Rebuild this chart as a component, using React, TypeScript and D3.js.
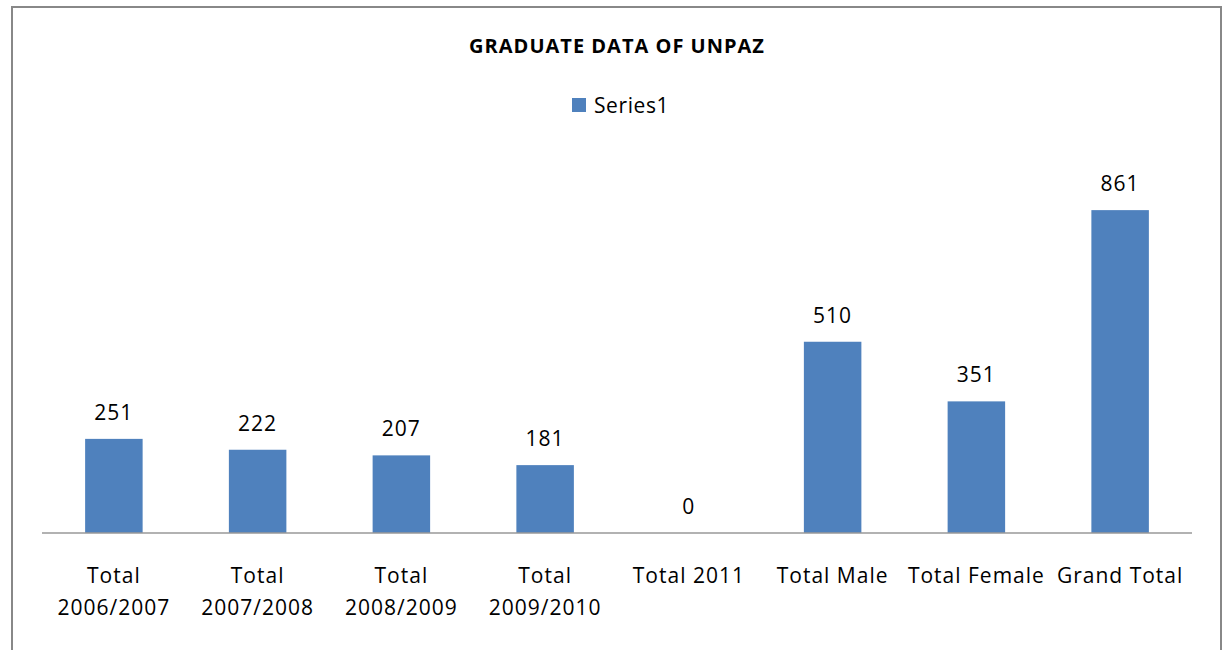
import { useEffect, useRef } from 'react';
import * as d3 from 'd3';

const categories = [
  'Total 2006/2007',
  'Total 2007/2008',
  'Total 2008/2009',
  'Total 2009/2010',
  'Total 2011',
  'Total Male',
  'Total Female',
  'Grand Total',
];
const values = [251, 222, 207, 181, 0, 510, 351, 861];
// label lines as they wrap in the picture
const labelLines = [
  ['Total', '2006/2007'],
  ['Total', '2007/2008'],
  ['Total', '2008/2009'],
  ['Total', '2009/2010'],
  ['Total 2011'],
  ['Total Male'],
  ['Total Female'],
  ['Grand Total'],
];
const seriesName = 'Series1';
const title = 'GRADUATE DATA OF UNPAZ';

const App = () => {
  const ref = useRef<SVGSVGElement>(null);

  useEffect(() => {
    const svg = d3.select(ref.current);
    svg.selectAll('*').remove();

    const width = 1224, height = 650;
    const plotLeft = 42, plotRight = 1192, plotTop = 158, plotBottom = 533;
    const font = 'Open Sans, sans-serif';
    const blue = '#4F81BD';

    // Chart border
    svg.append('rect')
      .attr('x', 12).attr('y', 7)
      .attr('width', 1209).attr('height', 660)
      .attr('fill', '#fff')
      .attr('stroke', '#888').attr('stroke-width', 2);

    const x = d3.scaleBand()
      .domain(categories)
      .range([plotLeft, plotRight])
      .paddingInner(0.6)
      .paddingOuter(0.3);

    const y = d3.scaleLinear()
      .domain([0, 1000])
      .range([plotBottom, plotTop]);

    // Title
    svg.append('text')
      .attr('x', 617).attr('y', 53)
      .attr('text-anchor', 'middle')
      .attr('font-family', font)
      .attr('font-weight', 'bold')
      .attr('font-size', 20)
      .attr('letter-spacing', 1)
      .attr('fill', '#000')
      .text(title);

    // Legend
    svg.append('rect')
      .attr('x', 572).attr('y', 98)
      .attr('width', 14).attr('height', 14)
      .attr('fill', blue);
    svg.append('text')
      .attr('x', 594).attr('y', 113)
      .attr('font-family', font)
      .attr('font-size', 21)
      .attr('letter-spacing', 0.6)
      .attr('fill', '#000')
      .text(seriesName);

    // Bars
    svg.append('g')
      .selectAll('rect')
      .data(values)
      .join('rect')
      .attr('x', (d, i) => x(categories[i])!)
      .attr('y', (d) => y(d))
      .attr('width', x.bandwidth())
      .attr('height', (d) => y(0) - y(d))
      .attr('fill', blue);

    // Value labels
    svg.append('g')
      .selectAll('text')
      .data(values)
      .join('text')
      .attr('x', (d, i) => x(categories[i])! + x.bandwidth() / 2)
      .attr('y', (d) => y(d) - 19)
      .attr('text-anchor', 'middle')
      .attr('font-family', font)
      .attr('font-size', 21)
      .attr('letter-spacing', 1)
      .attr('fill', '#000')
      .text((d) => d);

    // Axis line
    svg.append('line')
      .attr('x1', plotLeft).attr('x2', plotRight)
      .attr('y1', plotBottom).attr('y2', plotBottom)
      .attr('stroke', '#999').attr('stroke-width', 1.5);

    // Category labels
    const lab = svg.append('g')
      .selectAll('text')
      .data(labelLines)
      .join('text')
      .attr('x', (d, i) => x(categories[i])! + x.bandwidth() / 2)
      .attr('y', 583)
      .attr('text-anchor', 'middle')
      .attr('font-family', font)
      .attr('font-size', 21)
      .attr('letter-spacing', 1)
      .attr('fill', '#000');
    lab.selectAll('tspan')
      .data((d) => d)
      .join('tspan')
      .attr('x', function () { return (this.parentNode as SVGTextElement).getAttribute('x'); })
      .attr('dy', (d, i) => (i === 0 ? 0 : 32))
      .text((d) => d);

    svg.attr('width', width).attr('height', height);
  }, []);

  return (
    <svg ref={ref} style={{ position: 'absolute', left: 0, top: 0, background: '#fff' }} />
  );
};

export default App;
